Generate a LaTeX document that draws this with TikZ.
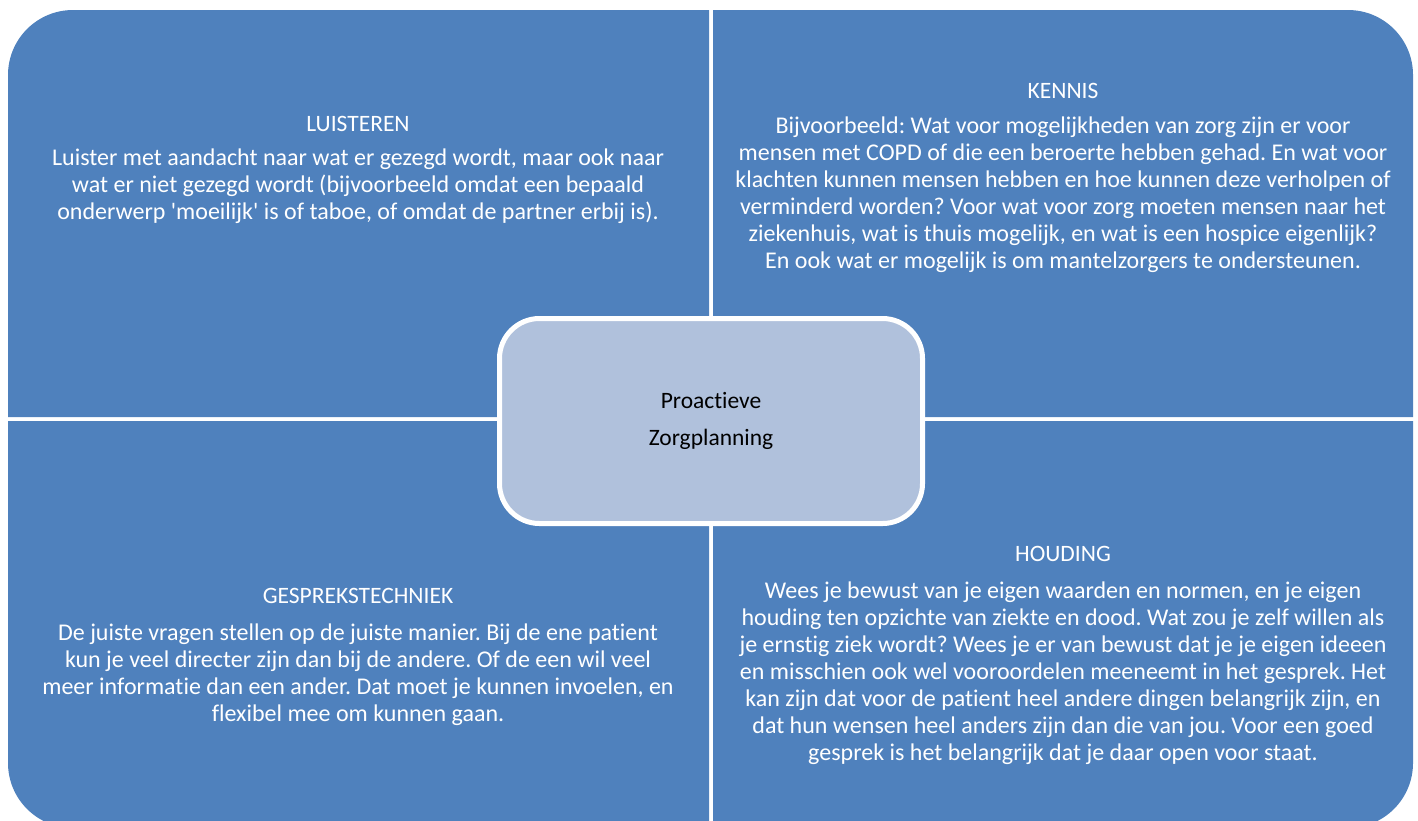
\documentclass[tikz,border=0pt]{standalone}
\usepackage{fontspec}
\setmainfont{Carlito}[Ligatures={TeXOff,CommonOff}]
\frenchspacing
\definecolor{qblue}{HTML}{4F81BD}
\definecolor{cfill}{HTML}{B0C1DC}
\begin{document}
\frenchspacing
\begin{tikzpicture}[x=1pt,y=-1pt,
  quad/.style={fill=qblue},
  ttl/.style={text=white,inner sep=0pt,font=\fontsize{23.5}{27}\selectfont},
  body/.style={text=white,inner sep=0pt,align=center,font=\fontsize{24}{27}\selectfont},
  core/.style={draw=white,line width=5pt,fill=cfill,rounded corners=40pt,
    minimum width=423pt,minimum height=205pt,align=center,text=black,
    font=\fontsize{23.5}{37}\selectfont}]
\useasboundingbox (0,0) rectangle (1418,820);
\clip (0,0) rectangle (1418,820);
% quadrants
\fill[quad] (709,417) -- (8,417) -- (8,75) arc[start angle=180,end angle=270,radius=65] -- (709,10) -- cycle;
\fill[quad] (713,417) -- (713,10) -- (1348,10) arc[start angle=270,end angle=360,radius=65] -- (1413,417) -- cycle;
\fill[quad] (8,421) -- (709,421) -- (709,828) -- (73,828) arc[start angle=90,end angle=180,radius=65] -- cycle;
\fill[quad] (713,421) -- (1413,421) -- (1413,763) arc[start angle=0,end angle=90,radius=65] -- (713,828) -- cycle;
% titles
\node[ttl] (t1) at (358,124) {LUISTEREN};
\node[ttl] (t2) at (1063,91) {KENNIS};
\node[ttl] (t3) at (358,596) {GESPREKSTECHNIEK};
\node[ttl] (t4) at (1063,554) {HOUDING};
% bodies
\node[body] (b1) at (358,186) {Luister met aandacht naar wat er gezegd wordt, maar ook naar\\
wat er niet gezegd wordt (bijvoorbeeld omdat een bepaald\\
onderwerp 'moeilijk' is of taboe, of omdat de partner erbij is).};
\node[body] (b2) at (1063,194.5) {Bijvoorbeeld: Wat voor mogelijkheden van zorg zijn er voor\\
mensen met COPD of die een beroerte hebben gehad. En wat voor\\
klachten kunnen mensen hebben en hoe kunnen deze verholpen of\\
verminderd worden? Voor wat voor zorg moeten mensen naar het\\
ziekenhuis, wat is thuis mogelijk, en wat is een hospice eigenlijk?\\
En ook wat er mogelijk is om mantelzorgers te ondersteunen.};
\node[body] (b3) at (358,675) {De juiste vragen stellen op de juiste manier. Bij de ene patient\\
kun je veel directer zijn dan bij de andere. Of de een wil veel\\
meer informatie dan een ander. Dat moet je kunnen invoelen, en\\
flexibel mee om kunnen gaan.};
\node[body] (b4) at (1063,673) {Wees je bewust van je eigen waarden en normen, en je eigen\\
houding ten opzichte van ziekte en dood. Wat zou je zelf willen als\\
je ernstig ziek wordt? Wees je er van bewust dat je je eigen ideeen\\
en misschien ook wel vooroordelen meeneemt in het gesprek. Het\\
kan zijn dat voor de patient heel andere dingen belangrijk zijn, en\\
dat hun wensen heel anders zijn dan die van jou. Voor een goed\\
gesprek is het belangrijk dat je daar open voor staat.};
% center
\node[core] (c) at (711,421) {Proactieve\\Zorgplanning};
\end{tikzpicture}
\end{document}
